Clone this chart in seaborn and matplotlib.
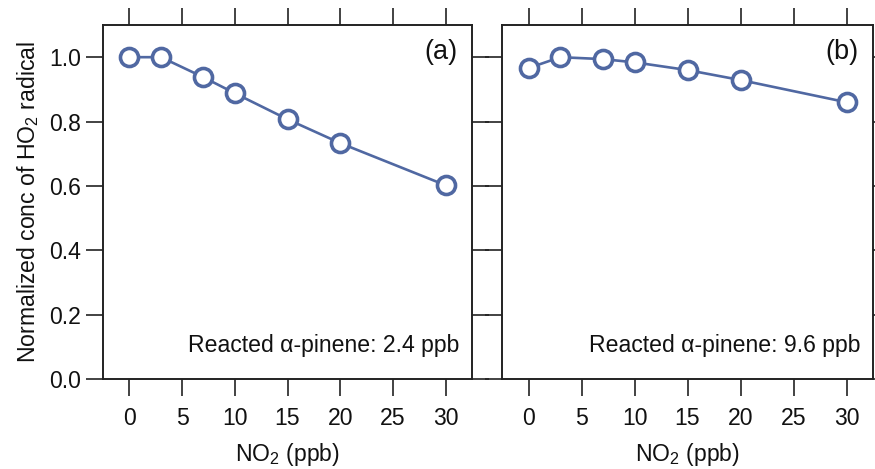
import matplotlib
matplotlib.use("Agg")
import matplotlib.pyplot as plt
import seaborn as sns
import pandas as pd

no2_ppb = [0, 3, 7, 10, 15, 20, 30]
ho2_a = [1.0, 1.0, 0.938, 0.888, 0.807, 0.733, 0.602]
ho2_b = [0.966, 1.0, 0.994, 0.984, 0.960, 0.929, 0.860]
panel_labels = ["(a)", "(b)"]
reacted_labels = ["Reacted α-pinene: 2.4 ppb", "Reacted α-pinene: 9.6 ppb"]
x_ticks = [0, 5, 10, 15, 20, 25, 30]
y_ticks = [0.0, 0.2, 0.4, 0.6, 0.8, 1.0]

sns.set_style("ticks")
plt.rcParams["font.family"] = ["Liberation Sans", "DejaVu Sans"]
plt.rcParams["mathtext.fontset"] = "custom"
plt.rcParams["mathtext.rm"] = "Liberation Sans"

color = "#5068a2"
fs = 16.6
fig = plt.figure(figsize=(8.75, 4.69), dpi=100)
W, H = 875, 469
ax1 = fig.add_axes([103 / W, 1 - 379 / H, (472 - 103) / W, (379 - 25) / H])
ax2 = fig.add_axes([502 / W, 1 - 379 / H, (873 - 502) / W, (379 - 25) / H])

for i, (ax, vals) in enumerate(zip([ax1, ax2], [ho2_a, ho2_b])):
    df = pd.DataFrame({"x": no2_ppb, "y": vals})
    sns.lineplot(data=df, x="x", y="y", ax=ax, color=color, lw=1.9,
                 marker="o", markersize=13, markerfacecolor="white",
                 markeredgecolor=color, markeredgewidth=2.6)
    ax.set_xlim(-2.5, 32.5)
    ax.set_ylim(0, 1.1)
    ax.set_xticks(x_ticks)
    ax.set_yticks(y_ticks)
    ax.tick_params(axis="both", which="both", direction="out", length=12,
                   width=1.2, color="#222222", labelcolor="#111111",
                   labelsize=fs, pad=4, top=True, right=True)
    ax.tick_params(axis="x", pad=8)
    for s in ax.spines.values():
        s.set_linewidth(1.4)
        s.set_color("#222222")
    ax.set_xlabel("NO$_2$ (ppb)", fontsize=fs, labelpad=8, color="#111111")
    ax.text(0.96, 0.96, panel_labels[i], transform=ax.transAxes,
            ha="right", va="top", fontsize=19.5, color="#111111")
    ax.text(0.965, 0.095, reacted_labels[i], transform=ax.transAxes,
            ha="right", va="center", fontsize=fs, color="#111111")
    ax.grid(False)

ax1.set_yticklabels([f"{v:.1f}" for v in y_ticks])
ax1.set_ylabel("Normalized conc of HO$_2$ radical", fontsize=fs, labelpad=6,
               color="#111111")
ax2.set_ylabel("")
ax2.set_yticklabels([])

fig.savefig("out.png", dpi=100)
